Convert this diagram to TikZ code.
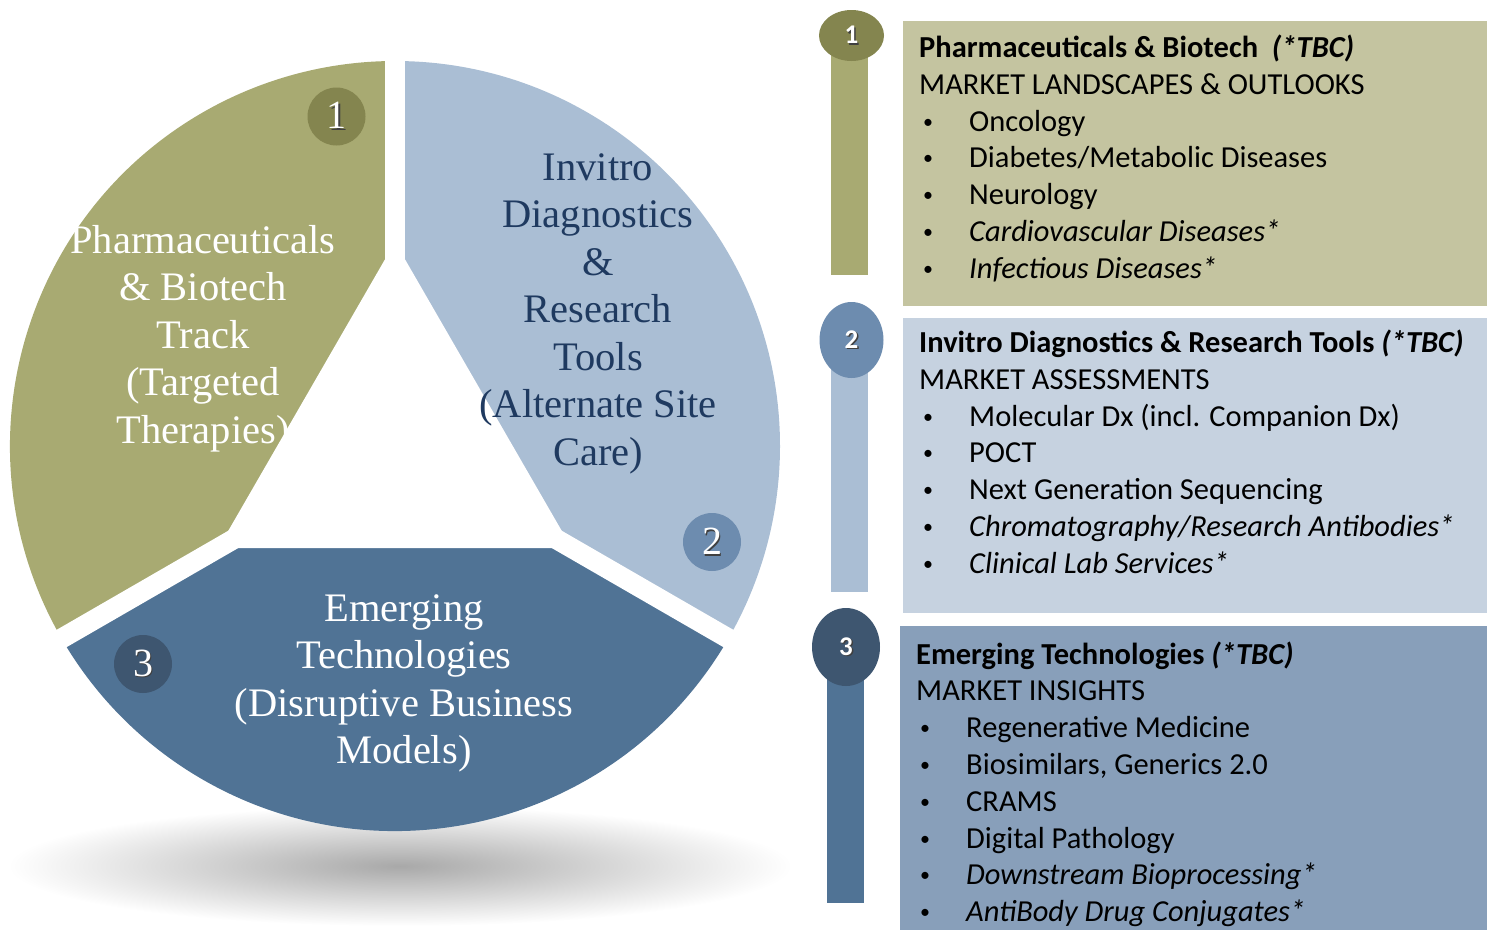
\documentclass[tikz,border=0pt]{standalone}
\usepackage{fontspec}
\setmainfont{Liberation Serif}
\newfontfamily\calib{Carlito}
\usetikzlibrary{shapes.geometric}

\definecolor{olv}{HTML}{A8AA72}
\definecolor{lbl}{HTML}{AABED4}
\definecolor{dbl}{HTML}{507395}
\definecolor{olvdot}{HTML}{84854F}
\definecolor{lbldot}{HTML}{6D8CAF}
\definecolor{dbldot}{HTML}{3E5670}
\definecolor{olvbox}{HTML}{C4C4A0}
\definecolor{lblbox}{HTML}{C6D2E0}
\definecolor{dblbox}{HTML}{889FBA}
\definecolor{navy}{HTML}{1F3A60}

\newcommand\shnum[1]{\makebox[0pt][l]{\kern1.5pt\raisebox{-1.5pt}{\textcolor{black!75}{#1}}}#1}
\newcommand\itm{\hspace*{4pt}\makebox[46pt][l]{\raisebox{3pt}{\fontsize{20}{20}\selectfont\textbullet}}}

\begin{document}
\begin{tikzpicture}[x=1pt,y=-1pt,
                pietext/.style={align=center,anchor=base,inner sep=0pt,
                                font=\fontsize{40.5}{47.5}\selectfont},
                badge/.style={circle,minimum size=58pt,inner sep=0pt,text=white,
                              font=\fontsize{40}{40}\selectfont},
                dot/.style={ellipse,inner sep=0pt,text=white,
                            font=\calib\bfseries\fontsize{27}{27}\selectfont},
                bar/.style={rectangle,inner sep=0pt,minimum width=37pt},
                box/.style={rectangle,inner sep=0pt,anchor=north west},
                list/.style={align=left,anchor=base west,inner sep=0pt,text=black,
                             font=\calib\fontsize{30.5}{36.8}\selectfont},
                gap/.style={white,line width=20pt}]

\useasboundingbox (0,0) rectangle (1492,930);

% shadow
\shade[inner color=black!34,outer color=white] (400,866) ellipse (392 and 60);

% pie
\coordinate (C) at (395,446);
\foreach \a/\col in {150/olv,270/lbl,30/dbl}
  \fill[\col] (C) -- ++(\a:385) arc[start angle=\a,delta angle=120,radius=385] -- cycle;
\fill[white] ([shift={(270:204)}]C) -- ([shift={(30:204)}]C) -- ([shift={(150:204)}]C) -- cycle;
\foreach \a in {30,150,270}
  \draw[gap] (C) -- ++(\a:400);

                    \node[badge,fill=olvdot] (PB1) at (336.5,116.5) {\shnum{1}}; % 1
                    \node[badge,fill=lbldot] (PB2) at (712,542) {\shnum{2}}; % 2
                    \node[badge,fill=dbldot] (PB3) at (143,664) {\shnum{3}}; % 3

                    % base = last line
                    \node[pietext,text=white] (PT1) at (203,443)
                      {Pharmaceuticals\\\& Biotech\\Track\\(Targeted\\Therapies)}; % 1
                    \node[pietext,text=navy] (PT2) at (598,465)
                      {Invitro\\Diagnostics\\\&\\Research\\Tools\\(Alternate Site\\Care)}; % 2
                    \node[pietext,text=white] (PT3) at (404,763.5)
                      {Emerging\\Technologies\\(Disruptive Business\\Models)}; % 3

% right hand list
                    \node[bar,fill=olv,minimum height=235pt] (BAR1) at (849.5,157.5) {}; % 1
                    \node[dot,fill=olvdot,minimum width=65pt,minimum height=51pt] (DOT1) at (851.5,35.5) {\shnum{1}};
                    \node[box,fill=olvbox,minimum width=584pt,minimum height=285pt] (BOX1) at (903,21) {};
                    \node[list] (LIST1) at (919,278.3)
                      {\textbf{Pharmaceuticals \& Biotech\ \ \textit{(*TBC)}}\\
                       MARKET LANDSCAPES \& OUTLOOKS\\
                       \itm Oncology\\
                       \itm Diabetes/Metabolic Diseases\\
                       \itm Neurology\\
                       \itm \textit{Cardiovascular Diseases*}\\
                       \itm \textit{Infectious Diseases*}};

                    \node[bar,fill=lbl,minimum height=245pt] (BAR2) at (849.5,469.5) {}; % 2
                    \node[dot,fill=lbldot,minimum width=64pt,minimum height=76pt] (DOT2) at (851.5,340) {\shnum{2}};
                    \node[box,fill=lblbox,minimum width=584pt,minimum height=295pt] (BOX2) at (903,318) {};
                    \node[list] (LIST2) at (919,573.3)
                      {\textbf{Invitro Diagnostics \& Research Tools \textit{(*TBC)}}\\
                       MARKET ASSESSMENTS\\
                       \itm Molecular Dx (incl. Companion Dx)\\
                       \itm POCT\\
                       \itm Next Generation Sequencing\\
                       \itm \textit{Chromatography/Research Antibodies*}\\
                       \itm \textit{Clinical Lab Services*}};

                    \node[bar,fill=dbl,minimum height=245pt] (BAR3) at (845.5,780) {}; % 3
                    \node[dot,fill=dbldot,minimum width=68pt,minimum height=78pt] (DOT3) at (846,647) {\shnum{3}};
                    \node[box,fill=dblbox,minimum width=587pt,minimum height=304pt] (BOX3) at (900,626) {};
                    \node[list] (LIST3) at (916,921.6)
                      {\textbf{Emerging Technologies \textit{(*TBC)}}\\
                       MARKET INSIGHTS\\
                       \itm Regenerative Medicine\\
                       \itm Biosimilars, Generics 2.0\\
                       \itm CRAMS\\
                       \itm Digital Pathology\\
                       \itm \textit{Downstream Bioprocessing*}\\
                       \itm \textit{AntiBody Drug Conjugates*}};

\end{tikzpicture}
\end{document}
